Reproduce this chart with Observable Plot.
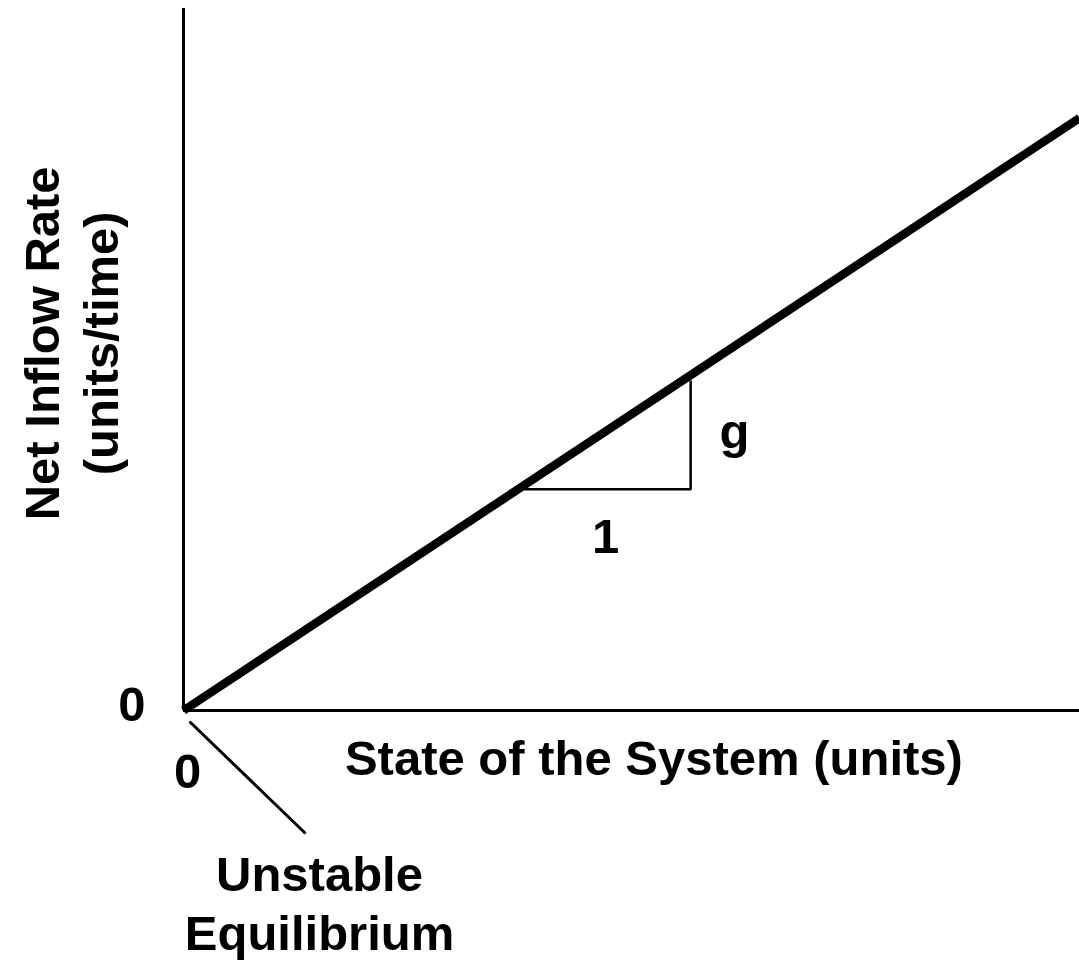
<!DOCTYPE html>
<html><head><meta charset="utf-8">
<script src="https://cdn.jsdelivr.net/npm/d3@7"></script>
<script src="https://cdn.jsdelivr.net/npm/@observablehq/plot@0.6"></script>
<style>html,body{margin:0;padding:0;background:#fff;} #chart svg{display:block}</style>
</head><body><div id="chart"></div>
<script>
// Growth line: net inflow = g * state
const stateValues = [0, 100];
const inflowValues = [0, 84.4];
// slope triangle (run of 1, rise of g)
const slopeX = [38, 56.6, 56.6];
const slopeY = [31.5, 31.5, 47];
const slopeLabels = ["g", "1"];
const slopeLabelX = [61.5, 47.1];
const slopeLabelY = [39.56, 24.74];
// axis ticks
const tickValues = [0];
const tickLabels = ["0"];
// titles
const xAxisTitle = "State of the System (units)";
const xTitleAt = [52.5, -7.02];
const yAxisTitle = ["Net Inflow Rate", "(units/time)"];
const yTitleAt = [-12.75, 52.3];
// unstable equilibrium annotation
const equilibriumLabel = ["Unstable", "Equilibrium"];
const equilibriumAt = [15.18, -27.18];
const pointerX = [0.67, 13.62];
const pointerY = [-1.57, -17.52];

const lineData = stateValues.map((s, i) => ({state: s, inflow: inflowValues[i]}));
const slopeData = slopeX.map((x, i) => ({x, y: slopeY[i]}));
const FONT = "'Liberation Sans', Arial, Helvetica, sans-serif";

const chart = Plot.plot({
  width: 1079,
  height: 960,
  marginLeft: 183,
  marginRight: 0,
  marginTop: 8,
  marginBottom: 250,
  x: {domain: [0, 100]},
  y: {domain: [0, 100]},
  style: {fontFamily: FONT, fontSize: "49px", fontWeight: "bold", color: "black", background: "white", overflow: "visible"},
  marks: [
    Plot.ruleX([0], {stroke: "black", strokeWidth: 3}),
    Plot.ruleY([0], {stroke: "black", strokeWidth: 3}),
    Plot.axisX({ticks: tickValues, tickFormat: d => tickLabels[tickValues.indexOf(d)], tickSize: 0, tickPadding: 43, dx: 4, fontSize: 49, fontWeight: "bold", label: null}),
    Plot.axisY({ticks: tickValues, tickFormat: d => tickLabels[tickValues.indexOf(d)], tickSize: 0, tickPadding: 38, dy: -5.5, fontSize: 49, fontWeight: "bold", label: null}),
    Plot.line(lineData, {x: "state", y: "inflow", stroke: "black", strokeWidth: 8.5, strokeLinecap: "butt"}),
    Plot.line(slopeData, {x: "x", y: "y", stroke: "black", strokeWidth: 2.5, strokeLinecap: "butt", strokeLinejoin: "miter"}),
    Plot.link([0], {x1: () => pointerX[0], y1: () => pointerY[0], x2: () => pointerX[1], y2: () => pointerY[1], stroke: "black", strokeWidth: 3}),
    Plot.text(slopeLabels, {x: (d, i) => slopeLabelX[i], y: (d, i) => slopeLabelY[i], text: d => d, fontSize: 49, fontWeight: "bold"}),
    Plot.text([xAxisTitle], {x: () => xTitleAt[0], y: () => xTitleAt[1], text: d => d, fontSize: 49, fontWeight: "bold"}),
    Plot.text([yAxisTitle.join("\n")], {x: () => yTitleAt[0], y: () => yTitleAt[1], text: d => d, rotate: -90, lineHeight: 1.22, fontSize: 49, fontWeight: "bold"}),
    Plot.text([equilibriumLabel.join("\n")], {x: () => equilibriumAt[0], y: () => equilibriumAt[1], text: d => d, lineHeight: 1.22, fontSize: 49, fontWeight: "bold"})
  ]
});
document.getElementById("chart").appendChild(chart);
</script>
</body></html>
